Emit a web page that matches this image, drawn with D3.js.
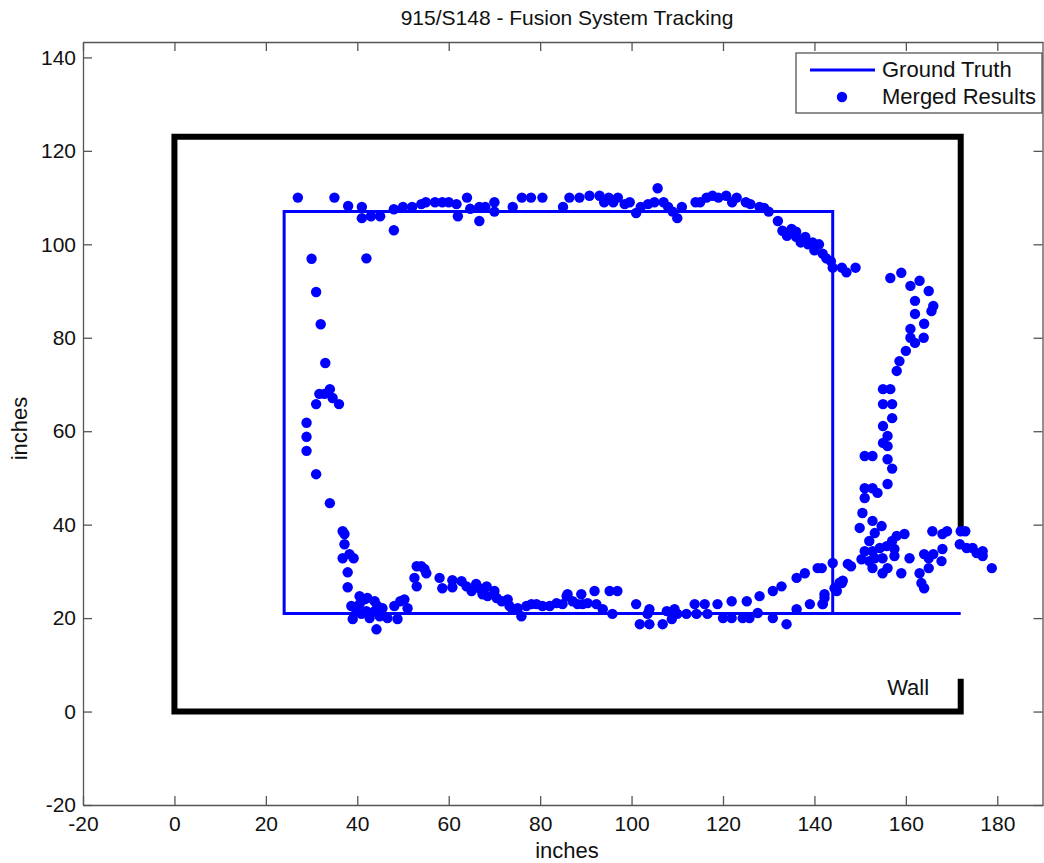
<!DOCTYPE html>
<html>
<head>
<meta charset="utf-8">
<script src="https://cdnjs.cloudflare.com/ajax/libs/d3/7.8.5/d3.min.js"></script>
<style>
  body { margin: 0; background: #fff; }
  text { font-family: "Liberation Sans", Arial, sans-serif; fill: #111; }
</style>
</head>
<body>
<div id="chart"></div>
<script>
// data (inches)
var xTicks = [-20, 0, 20, 40, 60, 80, 100, 120, 140, 160, 180];
var yTicks = [-20, 0, 20, 40, 60, 80, 100, 120, 140];

// ground truth walk path
var truthPath = [[172, 21], [24, 21], [24, 107], [144, 107], [144, 21]];

// room wall, with the door gap on the right
var wallPath = [[172, 39], [172, 123], [0, 123], [0, 0], [172, 0], [172, 7]];

// merged tracker output
var mergedResults = [
  [27,110],[35,110],[38,108.2],[41,108],[41,105.6],[43,106],[45,106],[48,107.5],[48,103],[30,96.9],[42,97],
  [50,108],[52,108],[54,108.6],[55,109],[57,109],[58.6,109],[60,109],[61.7,108.6],[62,106],[64,110],[64.7,107.6],
  [66.7,108],[66.7,105],[68,108],[70,109],[70,107],[74,108],[76,110],[78,110],[80.5,110],
  [85,108],[86.4,110],[88.6,110],[90.8,110.4],[93,110.4],[95,110],[97,110],[94,109],[96,109],[98.5,108.6],
  [99.6,109],[101,106.7],[102,108],[103.6,108.6],[105,109],[105.7,112],[107,109],[108,108],[109,107],[110,105.6],
  [111,108],[114,109],[115,109],[116.4,110],[117.7,110.4],[119,110],[120.7,110.4],[122,109],[123,110],[125,109],
  [126,108.6],[128,108],[129,107.8],[130,107],[132,105],[133,102.9],[135,103.3],[134,101.8],[136,102.7],[136,101.6],
  [137,100.4],[138,101.6],[138.6,100],[139.6,100.4],[140,98.7],[141,100],[141.8,98],[142.6,97],[143.6,96.4],
  [144,95],[146,95],[147,94],[149,95],
  [31,89.8],[32,82.9],[33,74.6],[34,69],[31.7,68],[32.8,68],[34.6,67.1],[36,65.8],[31,65.8],[28.9,61.8],
  [28.9,58.8],[28.9,55.8],[31,50.8],[34,44.6],[36.8,38.6],
  [37.2,38],[37.2,35.8],[36.8,32.8],[38.3,33.7],[39.2,32.8],[37.9,29.8],[37.9,26.6],[40.5,24.7],[38.7,22.6],
  [39,19.8],[40.5,23],[41.6,24],[42,21.5],[42.7,20],[43.8,23.6],[43.8,21.5],[44.2,17.6],[44.9,20.4],[44.4,22.6],
  [45.5,22.1],[40.9,20.9],[42.2,24.3],[39.8,21.5],[46.6,20],[48.8,19.8],[48.1,22.6],[50.3,24],[51,22.1],[49.4,23.6],
  [53,26.8],[52.5,28.6],[53,31.1],[54,31.1],[55.1,29.6],[54.7,30.5],[58,28.6],[58.6,26.4],[60.8,26.6],[60.8,28.1],
  [62.8,27.9],[63.9,26.8],[65,25.8],[66,27.3],[66.7,26.4],[68.3,26.8],[67.4,25.1],[68.5,24.7],[70,25.8],[70.5,24.3],
  [71.6,23.6],[72.9,24],[73.3,22.6],[74,21.9],[75.1,22.1],[75.9,20.4],[77,22.6],[78.1,23],[79.2,23],[80.5,22.6],
  [82.1,22.6],[83.6,23.2],[84.9,23],[85.8,24.7],[87.1,23.6],[88.2,23],
  [86,25.1],[89,25.1],[89.3,23],[90.4,23.2],[91.9,25.8],[92.3,23],[93.7,21.9],[95.2,25.8],[96.9,25.8],[95.8,20.9],
  [101,23],[101.8,18.7],[103.9,21.9],[103.9,18.7],[103.5,20.9],[106.8,18.7],[107.7,21.5],[108.8,19.8],[109.4,21.9],
  [110,20.9],[112,20.9],[113.8,23],[114.2,20.9],[116,23],[116.6,20.9],[118.8,23],[120,20],[121.9,23.6],[121.9,20],
  [124.3,20],[125.2,23.6],[125.8,20],[128,24.7],[127.6,21.1],[130.9,20],[130.9,25.8],[132.8,26.8],[133.9,18.7],
  [136.1,21.9],[136.1,28.6],[137.9,29.6],[139,23],[140.7,30.7],[141.8,23],[142.2,25.1],[144,31.8],[145.5,27.6],
  [146.2,28],[144.9,25.8],[147.3,31.6],
  [156.6,92.8],[159,93.9],[161,91.1],[163,92.2],[165,90],[162,87.9],[166,86.8],[165.6,85.7],[162,85.1],[164,83],
  [161,81.9],[163.9,80],[161,80],[162,78.9],[160,77.2],[158.6,75],[158,72.9],[155,69],[156.6,69],[155,65.8],
  [157,65.8],[157,62.8],[155,61.1],[156,59],[155,57.5],[156,56.8],
  [151,54.7],[152.7,54.7],[156,54],[157,52],[151,47.8],[152.7,47.8],[153.8,46.8],[156,48.7],[151,45.7],[150.5,42.5],
  [149.9,39.3],[152.7,40.8],[154.7,39.7],[153.2,38.2],[152,36.5],[151,34.3],[152.7,34.3],[154.3,35],[155.8,35.4],
  [157,36.5],[158,37.6],[159.7,38],[150.3,32.6],[152,32.2],[153.2,32.8],[154.9,32.8],[157.5,33.3],[157.5,34.8],
  [148,31.1],[152.7,30.7],[154.9,29.6],[156,30.7],[159,29.6],[160.8,32.8],[141.6,30.7],[146,27.5],[144.4,26.4],
  [142.2,24.3],[141.8,23],[163,29.6],[163.4,27.5],[164,26.4],[164,33.7],[165,32.8],[166,33.7],[165,30.7],[168,34.8],
  [167.8,32.2],[165.8,38.6],[168,38],[169,38.6],[172,38.6],[173,38.6],[171.8,35.8],[173.3,35],[174.6,35],
  [175.5,33.9],[176.8,34.3],[176.8,33.3],[178.8,30.7]
];

// size of page and plot box
var svgWidth = 1044;
var svgHeight = 863;

var margin = { top: 42, right: 1, bottom: 58, left: 83 };

var svg = d3.select("#chart")
  .append("svg")
  .attr("width", svgWidth)
  .attr("height", svgHeight);

var xScale = d3.scaleLinear()
  .domain([-20, 190])
  .range([margin.left, svgWidth - margin.right]);

var yScale = d3.scaleLinear()
  .domain([-20, 143.3])
  .range([svgHeight - margin.bottom, margin.top]);

var x0 = xScale.range()[0], x1 = xScale.range()[1];
var y0 = yScale.range()[0], y1 = yScale.range()[1];

var line = d3.line()
  .x(d => xScale(d[0]))
  .y(d => yScale(d[1]));

// wall
svg.append("path")
  .attr("d", line(wallPath))
  .attr("fill", "none")
  .attr("stroke", "#000")
  .attr("stroke-width", 6)
  .attr("stroke-linejoin", "miter");

// ground truth
svg.append("path")
  .attr("d", line(truthPath))
  .attr("fill", "none")
  .attr("stroke", "#0000ff")
  .attr("stroke-width", 3);

// merged results
svg.append("g")
  .selectAll("circle")
  .data(mergedResults)
  .enter()
  .append("circle")
  .attr("cx", d => xScale(d[0]))
  .attr("cy", d => yScale(d[1]))
  .attr("r", 5.2)
  .attr("fill", "#0000ff");

// wall label
svg.append("text")
  .attr("x", xScale(160.5))
  .attr("y", yScale(3.5))
  .attr("text-anchor", "middle")
  .attr("font-size", "22px")
  .text("Wall");

// axes, ticks pointing inward on all four sides
var axisColor = "#555";
var plainNum = d => String(d);   // keep hyphen minus like the original

var bottomAxis = d3.axisBottom(xScale).tickValues(xTicks).tickFormat(plainNum).tickSizeInner(-9).tickSizeOuter(0).tickPadding(11);
var topAxis = d3.axisTop(xScale).tickValues(xTicks).tickSizeInner(-9).tickSizeOuter(0).tickFormat("");
var leftAxis = d3.axisLeft(yScale).tickValues(yTicks).tickFormat(plainNum).tickSizeInner(-9).tickSizeOuter(0).tickPadding(7);
var rightAxis = d3.axisRight(yScale).tickValues(yTicks).tickSizeInner(-9).tickSizeOuter(0).tickFormat("");

svg.append("g").attr("transform", `translate(0,${y0})`).call(bottomAxis);
svg.append("g").attr("transform", `translate(0,${y1})`).call(topAxis);
svg.append("g").attr("transform", `translate(${x0},0)`).call(leftAxis);
svg.append("g").attr("transform", `translate(${x1 - 0.5},0)`).call(rightAxis);

svg.selectAll(".domain, .tick line").attr("stroke", axisColor).attr("stroke-width", 1.3);
svg.selectAll(".tick text")
  .attr("font-size", "21px")
  .attr("font-family", "'Liberation Sans', Arial, sans-serif")
  .attr("fill", "#111");

// title and axis labels
svg.append("text")
  .attr("x", 567)
  .attr("y", 25)
  .attr("text-anchor", "middle")
  .attr("font-size", "21px")
  .text("915/S148 - Fusion System Tracking");

svg.append("text")
  .attr("x", 567)
  .attr("y", 858)
  .attr("text-anchor", "middle")
  .attr("font-size", "22px")
  .text("inches");

svg.append("text")
  .attr("transform", `translate(27,${(y0 + y1) / 2 + 5}) rotate(-90)`)
  .attr("text-anchor", "middle")
  .attr("font-size", "22px")
  .text("inches");

// legend
var legend = svg.append("g").attr("transform", "translate(796,53)");

legend.append("rect")
  .attr("width", 246)
  .attr("height", 60)
  .attr("fill", "#fff")
  .attr("stroke", axisColor)
  .attr("stroke-width", 1.3);

legend.append("line")
  .attr("x1", 14).attr("x2", 79)
  .attr("y1", 17).attr("y2", 17)
  .attr("stroke", "#0000ff")
  .attr("stroke-width", 3);

legend.append("circle")
  .attr("cx", 46).attr("cy", 44)
  .attr("r", 5.2)
  .attr("fill", "#0000ff");

legend.append("text")
  .attr("x", 86).attr("y", 24)
  .attr("font-size", "22px")
  .text("Ground Truth");

legend.append("text")
  .attr("x", 86).attr("y", 51)
  .attr("font-size", "22px")
  .text("Merged Results");
</script>
</body>
</html>
